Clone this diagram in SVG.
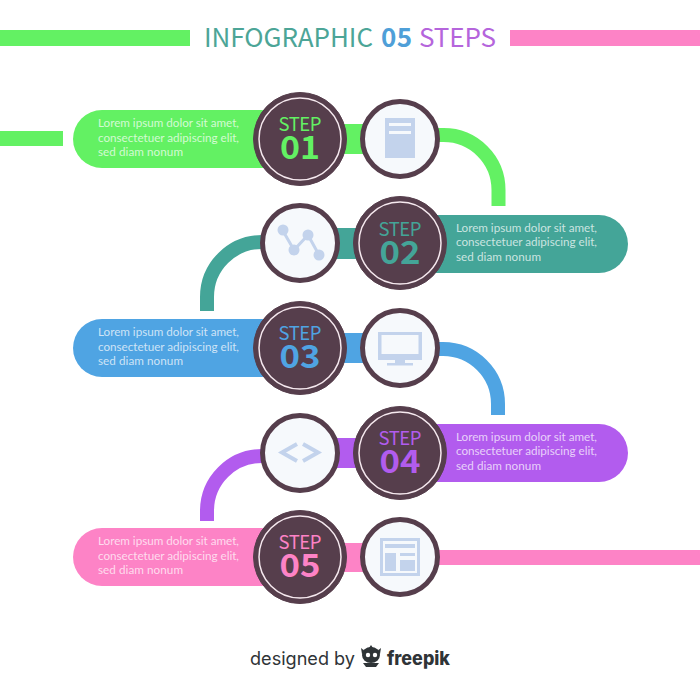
<svg xmlns="http://www.w3.org/2000/svg" width="700" height="700" viewBox="0 0 700 700">
<style>
.t{font-family:"Noto Sans CJK SC","Noto Sans",sans-serif}
.b{font-family:"Lato","Noto Sans",sans-serif;font-size:11.700px;fill:#fff;fill-opacity:.72}
.st{font-size:18.500px;text-anchor:middle}
.nm{font-size:32px;font-weight:700;text-anchor:middle}
.sc{fill:#563e4c;stroke:#563e4c;stroke-width:1}
.ring{fill:none;stroke:#f6e9ef;stroke-width:1.500}
.ic{fill:#f6f9fc;stroke:#563e4c;stroke-width:5}
.i{fill:#c3d3ec}
.ln{stroke:#c3d3ec;fill:none}
.arc{fill:none;stroke-width:14}
.g{fill:#63f163}.te{fill:#44a598}.bl{fill:#4fa4e3}.pu{fill:#b25cee}.pk{fill:#fd83c6}
</style>
<rect width="700" height="700" fill="#fff"/>
<g id="header">
<rect x="0" y="30" width="190" height="16" class="g"/>
<rect x="510" y="30" width="190" height="16" class="pk"/>
<text class="t" y="47" font-size="26"><tspan x="204" fill="#4ca597" textLength="169">INFOGRAPHIC</tspan><tspan x="381" fill="#4f9fd8" font-weight="700" textLength="31">05</tspan><tspan x="419" fill="#b565dc" textLength="77">STEPS</tspan></text>
</g>
<g id="connectors">
<rect x="0" y="131" width="63" height="15" class="g"/>
<rect x="340" y="124" width="25" height="30" class="g"/>
<path class="arc" stroke="#63f163" d="M435 135H443A55 55 0 0 1 498.500 190V206"/>
<rect x="335" y="228" width="30" height="31" class="te"/>
<path class="arc" stroke="#44a598" d="M265 242H262A55 55 0 0 0 207 297V311"/>
<rect x="340" y="333" width="25" height="30" class="bl"/>
<path class="arc" stroke="#4fa4e3" d="M435 349H443A55 55 0 0 1 498 404V415"/>
<rect x="335" y="438" width="30" height="30" class="pu"/>
<path class="arc" stroke="#b25cee" d="M265 456H262A55 55 0 0 0 207 511V521"/>
<rect x="340" y="543" width="25" height="29" class="pk"/>
<rect x="435" y="550" width="265" height="15" class="pk"/>
</g>
<g id="step1">
<rect x="73" y="110" width="220" height="58" rx="29" class="g"/>
<circle cx="300" cy="139" r="46.500" class="sc"/><circle cx="300" cy="139" r="41" class="ring"/>
<text class="t st" x="300" y="131" fill="#63f163" textLength="43">STEP</text><text class="t nm" x="300" y="159" fill="#63f163" textLength="40" lengthAdjust="spacingAndGlyphs">01</text>
<text class="b"><tspan x="98" y="127" textLength="141">Lorem ipsum dolor sit amet,</tspan><tspan x="98" y="142" textLength="141">consectetuer adipiscing elit,</tspan><tspan x="98" y="156" textLength="85">sed diam nonum</tspan></text>
</g>
<g id="icon1">
<circle cx="400" cy="139" r="37.500" class="ic"/>
<rect x="385" y="118" width="30" height="40" class="i"/><rect x="389" y="123" width="22" height="3" fill="#f6f9fc"/><rect x="389" y="131" width="22" height="3" fill="#f6f9fc"/>
</g>
<g id="step2">
<rect x="407" y="215" width="221" height="58" rx="29" class="te"/>
<circle cx="400" cy="243" r="46.500" class="sc"/><circle cx="400" cy="243" r="41" class="ring"/>
<text class="t st" x="400" y="236" fill="#44a598" textLength="43">STEP</text><text class="t nm" x="400" y="264" fill="#44a598" textLength="41" lengthAdjust="spacingAndGlyphs">02</text>
<text class="b"><tspan x="456" y="232" textLength="141">Lorem ipsum dolor sit amet,</tspan><tspan x="456" y="246" textLength="141">consectetuer adipiscing elit,</tspan><tspan x="456" y="261" textLength="85">sed diam nonum</tspan></text>
</g>
<g id="icon2">
<circle cx="300" cy="243" r="37.500" class="ic"/>
<path class="ln" stroke-width="3" d="M283 231L294 250L308 235L319 255"/>
<circle cx="283" cy="230" r="5.500" class="i"/><circle cx="294" cy="250" r="5.500" class="i"/><circle cx="308" cy="235" r="5.500" class="i"/><circle cx="319" cy="255" r="5.500" class="i"/>
</g>
<g id="step3">
<rect x="73" y="319" width="220" height="58" rx="29" class="bl"/>
<circle cx="300" cy="348" r="46.500" class="sc"/><circle cx="300" cy="348" r="41" class="ring"/>
<text class="t st" x="300" y="340" fill="#4fa4e3" textLength="43">STEP</text><text class="t nm" x="300" y="368" fill="#4fa4e3" textLength="41" lengthAdjust="spacingAndGlyphs">03</text>
<text class="b"><tspan x="98" y="336" textLength="141">Lorem ipsum dolor sit amet,</tspan><tspan x="98" y="351" textLength="141">consectetuer adipiscing elit,</tspan><tspan x="98" y="365" textLength="85">sed diam nonum</tspan></text>
</g>
<g id="icon3">
<circle cx="400" cy="348" r="37.500" class="ic"/>
<rect x="378" y="332" width="44" height="28" class="i"/><rect x="381.500" y="335" width="37" height="19" fill="#f6f9fc"/><rect x="395" y="360" width="10" height="4" class="i"/><rect x="387" y="363" width="26" height="2.500" class="i"/>
</g>
<g id="step4">
<rect x="407" y="424" width="221" height="58" rx="29" class="pu"/>
<circle cx="400" cy="453" r="46.500" class="sc"/><circle cx="400" cy="453" r="41" class="ring"/>
<text class="t st" x="400" y="445" fill="#b25cee" textLength="43">STEP</text><text class="t nm" x="400" y="473" fill="#b25cee" textLength="41" lengthAdjust="spacingAndGlyphs">04</text>
<text class="b"><tspan x="456" y="441" textLength="141">Lorem ipsum dolor sit amet,</tspan><tspan x="456" y="455" textLength="141">consectetuer adipiscing elit,</tspan><tspan x="456" y="470" textLength="85">sed diam nonum</tspan></text>
</g>
<g id="icon4">
<circle cx="300" cy="453" r="37.500" class="ic"/>
<path class="ln" stroke-width="4" d="M297 444L282 452.500L297 461M303 444L318 452.500L303 461"/>
</g>
<g id="step5">
<rect x="73" y="528" width="220" height="58" rx="29" class="pk"/>
<circle cx="300" cy="557" r="46.500" class="sc"/><circle cx="300" cy="557" r="41" class="ring"/>
<text class="t st" x="300" y="549" fill="#fd83c6" textLength="43">STEP</text><text class="t nm" x="300" y="577" fill="#fd83c6" textLength="41" lengthAdjust="spacingAndGlyphs">05</text>
<text class="b"><tspan x="98" y="545" textLength="141">Lorem ipsum dolor sit amet,</tspan><tspan x="98" y="560" textLength="141">consectetuer adipiscing elit,</tspan><tspan x="98" y="574" textLength="85">sed diam nonum</tspan></text>
</g>
<g id="icon5">
<circle cx="400" cy="557" r="37.500" class="ic"/>
<rect x="381.500" y="539.500" width="37" height="35" fill="none" stroke="#c3d3ec" stroke-width="3"/>
<rect x="385" y="544" width="30" height="4" class="i"/><rect x="385" y="553" width="11" height="18" class="i"/><rect x="400" y="553" width="15" height="3" class="i"/><rect x="400" y="560" width="15" height="11" class="i"/>
</g>
<g id="credit">
<text font-family="Inter,'Noto Sans',sans-serif" x="250" y="665" font-size="18" fill="#2f3437" textLength="105" lengthAdjust="spacingAndGlyphs">designed by</text>
<g fill="#2f3437"><ellipse cx="371" cy="655" rx="9" ry="8"/><path d="M369 648L371 645L373 648ZM361 648L366 652L362 654ZM381 648L376 652L380 654Z"/><path d="M363 663H379L376 667H366Z"/></g>
<circle cx="368" cy="655" r="2.200" fill="#fff"/><circle cx="375" cy="655" r="2.200" fill="#fff"/>
<text font-family="Inter,'Noto Sans',sans-serif" x="387" y="665" font-size="19" font-weight="800" fill="#2f3437" textLength="63" lengthAdjust="spacingAndGlyphs">freepik</text>
</g>
</svg>
